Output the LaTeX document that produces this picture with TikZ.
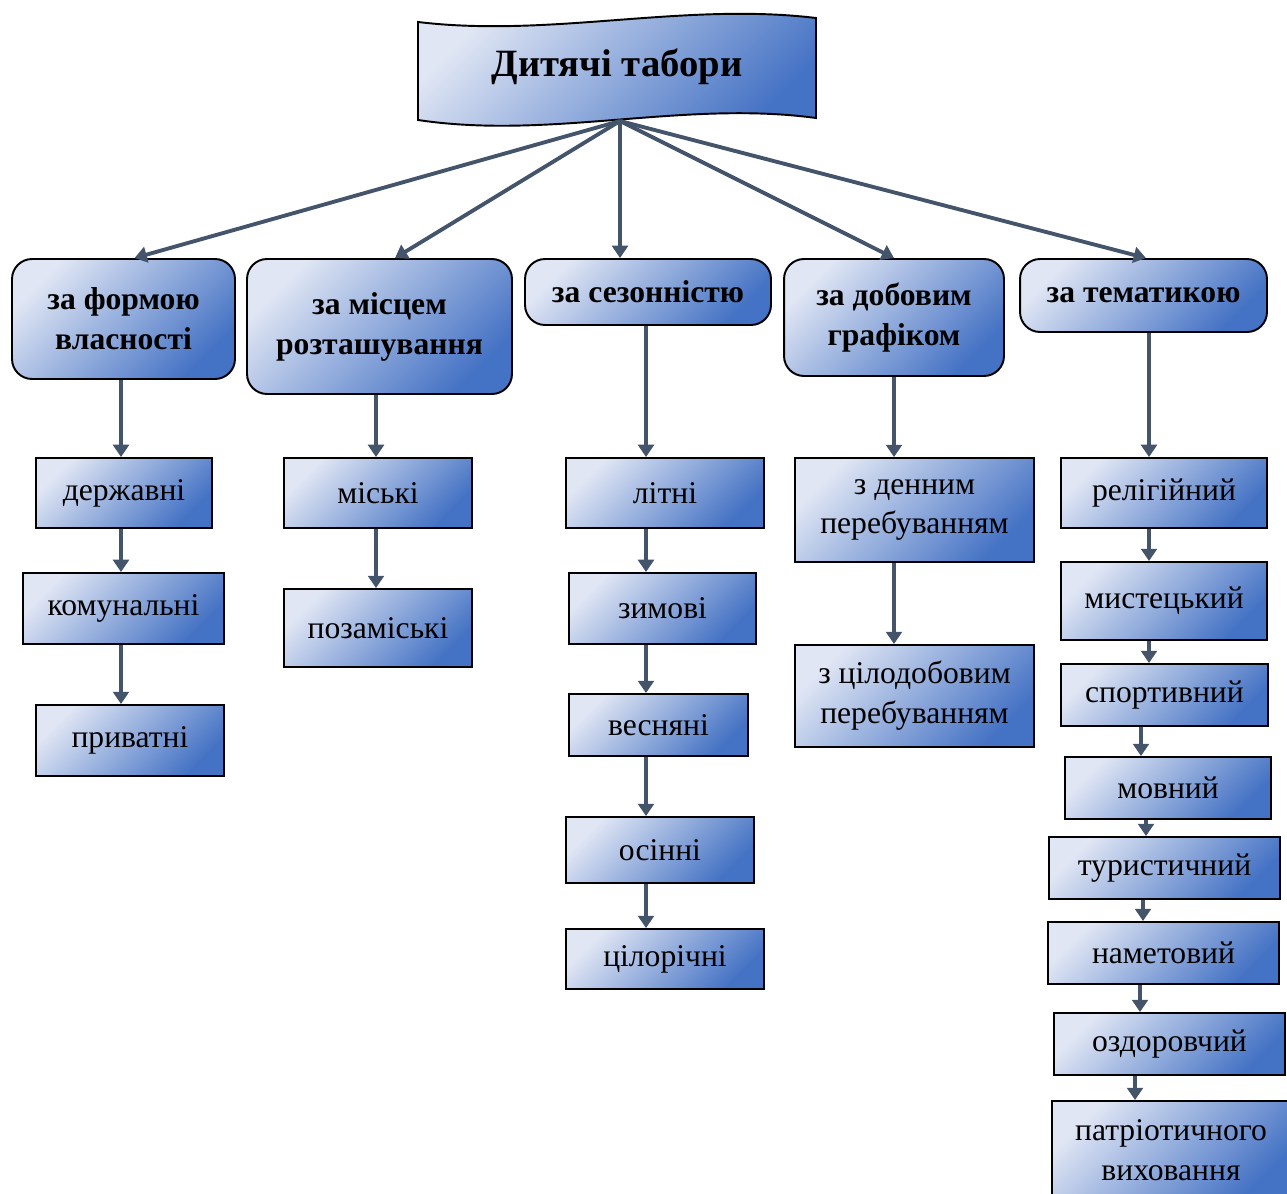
\documentclass[tikz,border=0pt]{standalone}
\usepackage{fontspec}
\setmainfont{Liberation Serif}
\usetikzlibrary{arrows.meta}
\definecolor{boxlight}{RGB}{224,230,244}
\definecolor{boxdark}{RGB}{68,114,196}
\definecolor{arrowc}{RGB}{68,84,106}

\begin{document}
\begin{tikzpicture}[x=0.02cm,y=-0.02cm,>={Triangle[length=7pt,width=9pt]},
    fillbox/.style={draw=black,line width=1.1pt,top color=boxlight,bottom color=boxdark,shading angle=45,
        align=center,inner sep=2pt,font=\fontsize{18}{22.7}\selectfont},
    kind/.style={fillbox,rounded corners=0.4cm,font=\bfseries\fontsize{18}{22.7}\selectfont},
    arr/.style={->,draw=arrowc,line width=2.2pt}]
\useasboundingbox (0,0) rectangle (1287,1193);
% title banner
\shade[draw=black,line width=1.1pt,top color=boxlight,bottom color=boxdark,shading angle=45]
    (418,22) .. controls (551,38) and (683,2) .. (816,18) -- (816,118)
    .. controls (683,100) and (551,140) .. (418,120) -- cycle;
\node (title) at (617,67) {\bfseries\fontsize{22}{26}\selectfont Дитячі табори};
\coordinate (root) at (620,121);
% groups
\node[kind,minimum width=4.46cm,minimum height=2.40cm] (h1) at (123.5,319) {за формою\\власності};
\node[kind,minimum width=5.30cm,minimum height=2.70cm] (h2) at (379.5,326.5) {за місцем\\розташування};
\node[kind,minimum width=4.92cm,minimum height=1.32cm] (h3) at (648,292) {за сезонністю};
\node[kind,minimum width=4.40cm,minimum height=2.34cm] (h4) at (894,317.5) {за добовим\\графіком};
\node[kind,minimum width=4.94cm,minimum height=1.46cm] (h5) at (1143.5,295.5) {за тематикою};
\draw[arr] (root) -- ([xshift=.22cm]h1.north);
\draw[arr] (root) -- ([xshift=.31cm]h2.north);
\draw[arr] (root) -- ([xshift=-.56cm]h3.north);
\draw[arr] (root) -- (h4.north);
\draw[arr] (root) -- ([xshift=.05cm]h5.north);
% column lines
\coordinate (c1) at (121,0);
\coordinate (c2) at (376,0);
\coordinate (c3) at (646,0);
\coordinate (c4) at (894,0);
\coordinate (c5) at (1149,0);
% ownership
\node[fillbox,minimum width=3.52cm,minimum height=1.40cm] (d1) at (124,493) {державні};
\node[fillbox,minimum width=4.02cm,minimum height=1.42cm] (d2) at (123.5,608.5) {комунальні};
\node[fillbox,minimum width=3.76cm,minimum height=1.42cm] (d3) at (130,740.5) {приватні};
\draw[arr] (h1.south -| c1) -- (d1.north -| c1);
\draw[arr] (d1.south -| c1) -- (d2.north -| c1);
\draw[arr] (d2.south -| c1) -- (d3.north -| c1);
% location
\node[fillbox,minimum width=3.76cm,minimum height=1.40cm] (m1) at (378,493) {міські};
\node[fillbox,minimum width=3.76cm,minimum height=1.56cm] (m2) at (378,628) {позаміські};
\draw[arr] (h2.south -| c2) -- (m1.north -| c2);
\draw[arr] (m1.south -| c2) -- (m2.north -| c2);
% seasons
\node[fillbox,minimum width=3.96cm,minimum height=1.40cm] (s1) at (665,493) {літні};
\node[fillbox,minimum width=3.74cm,minimum height=1.42cm] (s2) at (662.5,608.5) {зимові};
\node[fillbox,minimum width=3.58cm,minimum height=1.24cm] (s3) at (658.5,725) {весняні};
\node[fillbox,minimum width=3.76cm,minimum height=1.32cm] (s4) at (660,850) {осінні};
\node[fillbox,minimum width=3.96cm,minimum height=1.20cm] (s5) at (665,959) {цілорічні};
\draw[arr] (h3.south -| c3) -- (s1.north -| c3);
\draw[arr] (s1.south -| c3) -- (s2.north -| c3);
\draw[arr] (s2.south -| c3) -- (s3.north -| c3);
\draw[arr] (s3.south -| c3) -- (s4.north -| c3);
\draw[arr] (s4.south -| c3) -- (s5.north -| c3);
% daily schedule
\node[fillbox,minimum width=4.78cm,minimum height=2.08cm] (g1) at (914.5,510) {з денним\\перебуванням};
\node[fillbox,minimum width=4.78cm,minimum height=2.04cm] (g2) at (914.5,696) {з цілодобовим\\перебуванням};
\draw[arr] (h4.south -| c4) -- (g1.north -| c4);
\draw[arr] (g1.south -| c4) -- (g2.north -| c4);
% themes
\node[fillbox,minimum width=4.12cm,minimum height=1.40cm] (t1) at (1164,493) {релігійний};
\node[fillbox,minimum width=4.12cm,minimum height=1.56cm] (t2) at (1164,601) {мистецький};
\node[fillbox,minimum width=4.14cm,minimum height=1.24cm] (t3) at (1164.5,695) {спортивний};
\node[fillbox,minimum width=4.12cm,minimum height=1.24cm] (t4) at (1168,788) {мовний};
\node[fillbox,minimum width=4.62cm,minimum height=1.24cm] (t5) at (1164.5,868) {туристичний};
\node[fillbox,minimum width=4.62cm,minimum height=1.24cm] (t6) at (1163.5,953) {наметовий};
\node[fillbox,minimum width=4.62cm,minimum height=1.24cm] (t7) at (1169.5,1044) {оздоровчий};
\node[fillbox,minimum width=4.76cm,minimum height=1.98cm] (t8) at (1171,1150.5) {патріотичного\\виховання};
\draw[arr] (h5.south -| c5) -- (t1.north -| c5);
\draw[arr] (t1.south -| c5) -- (t2.north -| c5);
\draw[arr] (t2.south -| c5) -- (t3.north -| c5);
\draw[arr] ([xshift=-.16cm]t3.south -| c5) -- ([xshift=-.16cm]t4.north -| c5);
\draw[arr] ([xshift=-.06cm]t4.south -| c5) -- ([xshift=-.06cm]t5.north -| c5);
\draw[arr] ([xshift=-.12cm]t5.south -| c5) -- ([xshift=-.12cm]t6.north -| c5);
\draw[arr] ([xshift=-.18cm]t6.south -| c5) -- ([xshift=-.18cm]t7.north -| c5);
\draw[arr] ([xshift=-.28cm]t7.south -| c5) -- ([xshift=-.28cm]t8.north -| c5);
\end{tikzpicture}
\end{document}
